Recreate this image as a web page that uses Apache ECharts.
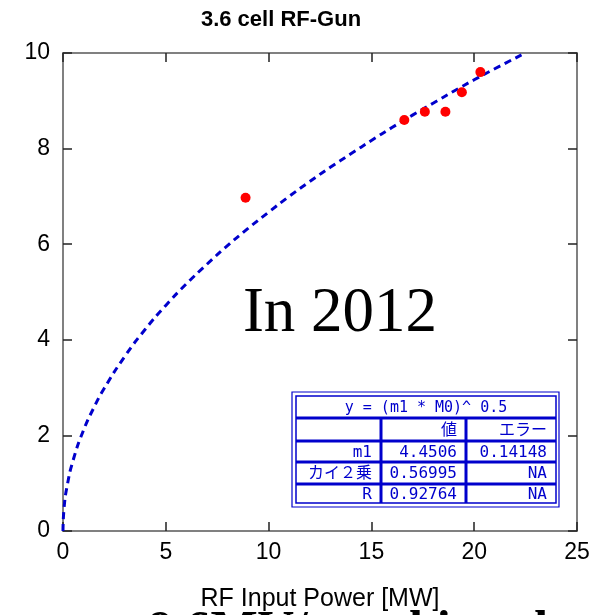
<!DOCTYPE html>
<html><head><meta charset="utf-8">
<script src="https://cdn.jsdelivr.net/npm/echarts@6/dist/echarts.min.js"></script>
<style>html,body{margin:0;padding:0;background:#fff}#c{width:597px;height:615px}</style>
</head><body><div id="c"></div>
<script>
// Measured data (RF input power [MW], field)
const measX = [8.88, 16.6, 17.6, 18.6, 19.4, 20.3];
const measY = [6.97, 8.60, 8.77, 8.77, 9.18, 9.60];
// Fit curve points
const fitX = [0, 0.05, 0.2, 0.5, 1, 1.5, 2, 3, 4, 5, 6, 7, 8, 9, 10, 11, 12, 13, 14, 15, 16, 17, 18, 19, 20, 21, 22.3];
const fitY = [0, 0.47, 0.94, 1.49, 2.11, 2.58, 2.98, 3.65, 4.22, 4.72, 5.17, 5.58, 5.97, 6.33, 6.67, 7.00, 7.31, 7.61, 7.89, 8.17, 8.44, 8.70, 8.95, 9.20, 9.44, 9.67, 9.96];
const xTicks = [0, 5, 10, 15, 20, 25];
const yTicks = [0, 2, 4, 6, 8, 10];
const titleText = '3.6 cell RF-Gun';
const xName = 'RF Input Power [MW]';
const tableHeader = 'y = (m1 * M0)^ 0.5';
const tableCols = ['', '値', 'エラー'];
const tableRows = [['m1', '4.4506', '0.14148'], ['カイ２乗', '0.56995', 'NA'], ['R', '0.92764', 'NA']];

const chart = echarts.init(document.getElementById('c'));
const gridL = 63, gridT = 53, gridR = 20, gridB = 84;
const axisCommon = {
  type: 'value', splitLine: { show: false },
  axisLine: { show: true, onZero: false, lineStyle: { color: '#808080', width: 2 } },
  axisTick: { show: true, inside: true, length: 9, lineStyle: { color: '#222', width: 1.5 } }
};
const blue = '#0000cc';
const tfont = '"DejaVu Sans Mono","Noto Sans CJK JP",monospace';
const sans = '"Liberation Sans",Arial,sans-serif';
// table graphic
const tx0 = 292, ty0 = 392, tx1 = 559, ty1 = 507;
const colX = [296, 381, 466, 556];
const rowY = [396, 418, 441, 462, 484, 503];
const g = [];
g.push({ type: 'rect', shape: { x: tx0, y: ty0, width: tx1 - tx0, height: ty1 - ty0 }, style: { fill: '#fff', stroke: blue, lineWidth: 1.2 } });
g.push({ type: 'rect', shape: { x: colX[0], y: rowY[0], width: colX[3] - colX[0], height: rowY[5] - rowY[0] }, style: { fill: 'none', stroke: blue, lineWidth: 1.5 } });
for (let i = 1; i < 5; i++) g.push({ type: 'line', shape: { x1: colX[0], y1: rowY[i], x2: colX[3], y2: rowY[i] }, style: { stroke: blue, lineWidth: 3 } });
for (let j = 1; j < 3; j++) g.push({ type: 'line', shape: { x1: colX[j], y1: rowY[1], x2: colX[j], y2: rowY[5] }, style: { stroke: blue, lineWidth: 3 } });
g.push({ type: 'text', x: (colX[0] + colX[3]) / 2, y: (rowY[0] + rowY[1]) / 2 + 1, style: { text: tableHeader, fill: blue, font: '15px ' + tfont, textAlign: 'center', textVerticalAlign: 'middle' } });
const allRows = [tableCols].concat(tableRows);
for (let r = 0; r < allRows.length; r++) {
  for (let c = 0; c < 3; c++) {
    if (!allRows[r][c]) continue;
    g.push({ type: 'text', x: colX[c + 1] - 9, y: (rowY[r + 1] + rowY[r + 2]) / 2 + 1, style: { text: allRows[r][c], fill: blue, font: '16px ' + tfont, textAlign: 'right', textVerticalAlign: 'middle' } });
  }
}
g.push({ type: 'text', x: 340, y: 314, style: { text: 'In 2012', fill: '#000', font: '63px "Liberation Serif","Times New Roman",serif', textAlign: 'center', textVerticalAlign: 'middle' }, z: 5 });
g.push({ type: 'text', x: 281, y: 9, style: { text: titleText, fill: '#000', font: 'bold 22px ' + sans, textAlign: 'center', textVerticalAlign: 'top' } });
g.push({ type: 'text', x: 148, y: 607, style: { text: '9.6MV/m achieved', fill: '#000', font: 'bold 50px "Liberation Serif","Times New Roman",serif', textAlign: 'left', textVerticalAlign: 'top' }, z: 1 });

chart.setOption({
  animation: false,
  backgroundColor: '#fff',
  grid: { left: gridL, top: gridT, right: gridR, bottom: gridB, containLabel: false, outerBoundsMode: 'none' },
  xAxis: [
    Object.assign({}, axisCommon, { position: 'bottom', min: 0, max: 25, interval: 5,
      name: xName, nameLocation: 'middle', nameGap: 56,
      nameTextStyle: { color: '#000', fontSize: 25, fontFamily: sans },
      axisLabel: { color: '#000', fontSize: 23, margin: 10, fontFamily: sans, formatter: v => xTicks.includes(v) ? String(v) : '' } }),
    Object.assign({}, axisCommon, { position: 'top', min: 0, max: 25, interval: 5, axisLabel: { show: false } })
  ],
  yAxis: [
    Object.assign({}, axisCommon, { position: 'left', min: 0, max: 10, interval: 2,
      axisLabel: { color: '#000', fontSize: 23, margin: 13, fontFamily: sans, formatter: v => yTicks.includes(v) ? String(v) : '' } }),
    Object.assign({}, axisCommon, { position: 'right', min: 0, max: 10, interval: 2, axisLabel: { show: false } })
  ],
  graphic: g,
  series: [
    { type: 'line', xAxisIndex: 0, yAxisIndex: 0, data: fitX.map((x, i) => [x, fitY[i]]), smooth: true, showSymbol: false,
      lineStyle: { color: blue, width: 3, type: [7, 5] }, z: 2 },
    { type: 'scatter', xAxisIndex: 0, yAxisIndex: 0, data: measX.map((x, i) => [x, measY[i]]), symbolSize: 10,
      itemStyle: { color: '#ff0000', opacity: 1 }, z: 3 }
  ]
});
</script></body></html>
